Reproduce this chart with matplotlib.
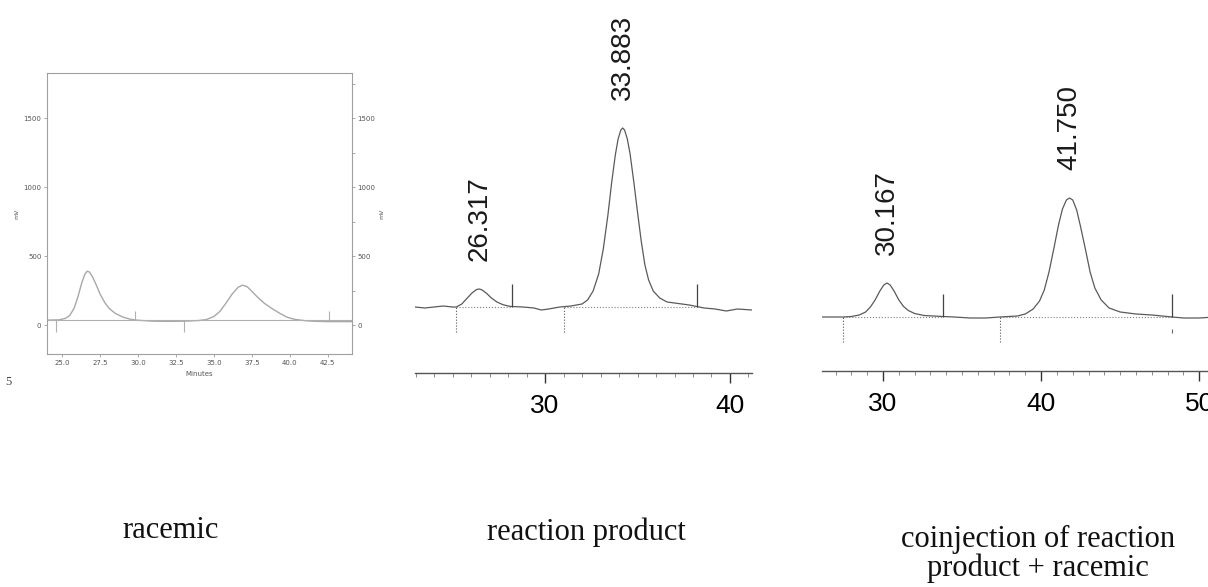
import numpy as np
import matplotlib.pyplot as plt
from matplotlib.ticker import MultipleLocator

W, H = 1208, 587

# panel 1: racemic (minutes, mV)
t_rac = [24.0, 24.8, 25.2, 25.5, 25.8, 26.05, 26.3, 26.5, 26.65, 26.8, 27.0, 27.25, 27.5, 27.8, 28.1,
         28.5, 29.0, 29.5, 30.0, 31.0, 32.0, 33.0, 34.0, 34.5, 35.0, 35.4, 35.8, 36.2, 36.6, 36.9,
         37.2, 37.5, 37.9, 38.3, 38.8, 39.3, 39.8, 40.3, 41.0, 41.5, 42.6, 44.1]
s_rac = [36, 38, 48, 70, 125, 210, 310, 370, 391, 385, 350, 290, 225, 165, 120,
         85, 58, 42, 35, 28, 27, 28, 33, 40, 62, 100, 160, 225, 275, 290,
         278, 245, 200, 160, 122, 88, 58, 42, 32, 28, 25, 25]
rac_start_marks = [24.6, 33.0]
rac_end_marks = [29.8, 42.6]
rac_xticks = [25.0, 27.5, 30.0, 32.5, 35.0, 37.5, 40.0, 42.5]
rac_yticks = [0, 500, 1000, 1500]

# panel 2: reaction product (minutes, signal)
t_prod = [22.97, 23.5, 24.0, 24.5, 25.0, 25.2, 25.5, 25.8, 26.05, 26.3, 26.45, 26.6, 26.85, 27.1, 27.4,
          27.7, 28.0, 28.2, 28.8, 29.4, 29.8, 30.2, 30.8, 31.4, 32.0, 32.3, 32.6, 32.9, 33.15, 33.4,
          33.6, 33.8, 33.95, 34.1, 34.2, 34.3, 34.45, 34.6, 34.8, 35.0, 35.2, 35.4, 35.6, 35.85, 36.2,
          36.6, 37.2, 37.8, 38.2, 38.6, 39.2, 39.8, 40.4, 41.19]
s_prod = [0, -1, 0, 1, 0, 0, 3, 9, 14, 17.5, 18, 17, 13.5, 9, 5,
          2.5, 1, 0.5, 0, -1, -3, -2, 0, 1, 3, 7, 16, 33, 58, 92,
          124, 152, 168, 177, 179, 177, 168, 153, 125, 95, 66, 42, 27, 16, 9,
          5, 3.5, 2, 0.5, -1, -2, -4, -2, -3]
prod_peak_times = [26.45, 34.2]
prod_peak_labels = ['26.317', '33.883']
prod_start_marks = [25.2, 31.0]
prod_end_marks = [28.2, 38.2]

# panel 3: coinjection (minutes, signal)
t_co = [26.14, 27.0, 27.5, 28.0, 28.5, 28.9, 29.2, 29.5, 29.8, 30.05, 30.25, 30.45, 30.7, 31.0, 31.3,
        31.6, 32.0, 32.6, 33.2, 33.8, 34.5, 35.5, 36.5, 37.4, 38.5, 39.0, 39.5, 39.9, 40.2, 40.5,
        40.8, 41.1, 41.35, 41.6, 41.8, 42.0, 42.25, 42.5, 42.8, 43.1, 43.4, 43.8, 44.3, 45.0, 46.0,
        47.0, 48.3, 49.0, 50.0, 51.0]
s_co = [0, 0, 0, 0.5, 2, 5, 10, 17, 26, 32, 34, 32, 26, 17, 10.5,
        6.5, 3.5, 1.5, 1, 0.5, 0, -1, -1, 0, 1, 3, 8, 16, 27, 45,
        68, 92, 108, 117, 119, 117, 107, 90, 68, 45, 29, 17, 9, 5, 3,
        2, 0, -1, -1, 0]
co_peak_times = [30.25, 41.8]
co_peak_labels = ['30.167', '41.750']
co_start_marks = [27.5, 37.4]
co_end_marks = [33.8, 48.3]

captions = ['racemic', 'reaction product', 'coinjection of reaction\nproduct + racemic']


def px_axes(fig, x0, y0, x1, y1):
    return fig.add_axes([x0 / W, 1 - y1 / H, (x1 - x0) / W, (y1 - y0) / H])


fig = plt.figure(figsize=(W / 100, H / 100), dpi=100)

# ---- racemic ----
ax1 = px_axes(fig, 47, 73, 352, 354)
ax1.plot(t_rac, s_rac, color='#a8a8a8', lw=1.0)
ax1.axhline(36, color='#b0b0b0', lw=0.8)
ax1.vlines(rac_start_marks, -50, 36, color='#b0b0b0', lw=0.8)
ax1.vlines(rac_end_marks, 36, 105, color='#b0b0b0', lw=0.8)
ax1.set_xlim(24.0, 44.1)
ax1.set_ylim(-210, 1830)
ax1.set_xticks(rac_xticks)
ax1.set_xticklabels([f'{v:.1f}' for v in rac_xticks])
ax1.set_yticks(rac_yticks)
ax1.tick_params(labelsize=5, length=2, width=0.5, color='#888888', labelcolor='#555555', pad=2)
ax1.set_xlabel('Minutes', fontsize=5, color='#555555', labelpad=4)
ax1.set_ylabel('mV', fontsize=4.5, color='#555555', labelpad=3)
for sp in ax1.spines.values():
    sp.set_color('#a0a0a0')
    sp.set_linewidth(0.8)
ax1r = ax1.twinx()
ax1r.set_ylim(ax1.get_ylim())
ax1r.set_yticks(rac_yticks)
ax1r.yaxis.set_minor_locator(MultipleLocator(250))
ax1r.tick_params(which='both', labelsize=5, length=2, width=0.5, color='#888888', labelcolor='#555555', pad=2)
ax1r.set_ylabel('mV', fontsize=4.5, color='#555555', labelpad=3)
for sp in ax1r.spines.values():
    sp.set_visible(False)
fig.text(8 / W, 1 - 382 / H, '5', fontsize=9, family='Liberation Serif', va='center', ha='center', color='#444444')


def chromatogram(ax, t, s, peak_times, peak_labels, start_marks, end_marks, xlim, ylim, step):
    ax.plot(t, s, color='#5a5a5a', lw=0.9)
    ax.plot([start_marks[0], end_marks[0]], [0, 0], color='#808080', lw=0.8, ls=':')
    ax.plot([start_marks[1], end_marks[1]], [0, 0], color='#808080', lw=0.8, ls=':')
    ax.vlines(start_marks, -25, 0, color='#555555', lw=0.8, linestyles=':')
    ax.vlines(end_marks, 0, 23, color='#444444', lw=0.9)
    for pt, lab in zip(peak_times, peak_labels):
        ax.annotate(lab, (pt, np.interp(pt, t, s)), xytext=(0, 20), textcoords='offset points',
                    rotation=90, ha='center', va='bottom', fontsize=20,
                    family='Liberation Sans', color='#1a1a1a')
    ax.set_xlim(*xlim)
    ax.set_ylim(*ylim)
    ax.xaxis.set_major_locator(MultipleLocator(step))
    ax.xaxis.set_minor_locator(MultipleLocator(1))
    ax.tick_params(axis='x', which='major', length=7, width=1.0, color='#333333', labelsize=19, pad=8)
    ax.tick_params(axis='x', which='minor', length=3, width=0.6, color='#777777')
    for lbl in ax.get_xticklabels():
        lbl.set_family('Liberation Sans')
    ax.set_yticks([])
    for k in ['top', 'left', 'right']:
        ax.spines[k].set_visible(False)
    ax.spines['bottom'].set_color('#555555')
    ax.spines['bottom'].set_linewidth(1.0)


ax2 = px_axes(fig, 415, 0, 752, 373)
chromatogram(ax2, t_prod, s_prod, prod_peak_times, prod_peak_labels, prod_start_marks, prod_end_marks,
             (22.97, 41.19), (-66, 307), 10)

ax3 = px_axes(fig, 822, 0, 1215, 371)
chromatogram(ax3, t_co, s_co, co_peak_times, co_peak_labels, co_start_marks, co_end_marks,
             (26.14, 51.0), (-54, 317), 10)
ax3.vlines([48.3], -16, -12, color='#666666', lw=0.8)

# captions (y = baseline of the last line)
cap_x = [171, 586, 1038]
cap_y = [538, 540, 576]
for x, y, c in zip(cap_x, cap_y, captions):
    fig.text(x / W, 1 - y / H, c, ha='center', va='baseline', fontsize=22,
             family='Liberation Serif', linespacing=1.0, color='#111111')

fig.savefig('out.png', dpi=100)
